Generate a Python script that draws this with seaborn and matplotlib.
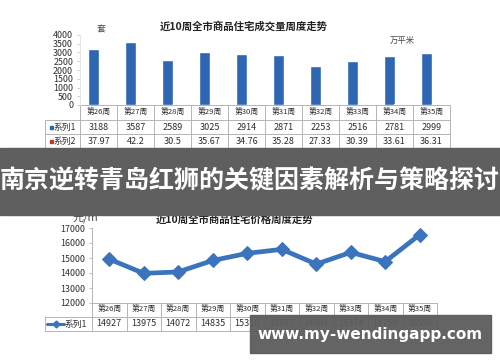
import numpy as np
import pandas as pd
import matplotlib
matplotlib.use('Agg')
import matplotlib.pyplot as plt
import seaborn as sns
from matplotlib.patches import Rectangle
from matplotlib.lines import Line2D

# ---------------- data ----------------
weeks = ['第26周', '第27周', '第28周', '第29周', '第30周',
         '第31周', '第32周', '第33周', '第34周', '第35周']
series_names = ['系列1', '系列2']
volume_units = [3188, 3587, 2589, 3025, 2914, 2871, 2253, 2516, 2781, 2999]
volume_area = [37.97, 42.2, 30.5, 35.67, 34.76, 35.28, 27.33, 30.39, 33.61, 36.31]
price = [14927, 13975, 14072, 14835, 15310, 15577, 14594, 15374, 14759, 16556]
volume_ticks = [0, 500, 1000, 1500, 2000, 2500, 3000, 3500, 4000]
price_ticks = [12000, 13000, 14000, 15000, 16000, 17000]
title_top = '近10周全市商品住宅成交量周度走势'
title_bottom = '近10周全市商品住宅价格周度走势'
unit_top_left = '套'
unit_top_right = '万平米'
unit_bottom = '元/m²'
banner_text = '南京逆转青岛红狮的关键因素解析与策略探讨'
watermark_text = 'www.my-wendingapp.com'

# ---------------- style ----------------
sns.set_theme(style='white')
plt.rcParams['font.family'] = ['Noto Sans CJK SC', 'DejaVu Sans']

W, H = 500, 362
fig = plt.figure(figsize=(5, 3.62), dpi=100)
fig.patch.set_facecolor('white')


def rect(x0, y0, x1, y1):
    return [x0 / W, 1 - y1 / H, (x1 - x0) / W, (y1 - y0) / H]


BLUE = '#2f66b3'
RED = '#c0392b'
LINE_BLUE = '#3b73bd'
GRID = '#b4b4b4'
TXT = '#2e2e2e'

bg = fig.add_axes([0, 0, 1, 1], zorder=0)
bg.set_xlim(0, W)
bg.set_ylim(H, 0)
bg.axis('off')

# ---------------- top chart ----------------
ax1 = fig.add_axes(rect(80, 35, 450, 105), zorder=1)
df1 = pd.DataFrame({
    'week': weeks * 2,
    'value': volume_units + volume_area,
    'series': [series_names[0]] * len(weeks) + [series_names[1]] * len(weeks),
})
sns.barplot(data=df1, x='week', y='value', hue='series',
            palette=[BLUE, RED], width=0.55, saturation=1,
            ax=ax1, legend=False)
ax1.set_xlim(-0.5, len(weeks) - 0.5)
ax1.set_ylim(0, 4000)
ax1.set_yticks(volume_ticks)
ax1.set_xticks([])
ax1.set_xlabel('')
ax1.set_ylabel('')
ax1.tick_params(axis='y', labelsize=6.4, length=2, width=0.6, color='#c8c8c8',
                pad=3, labelcolor=TXT, left=True)
for k, s in ax1.spines.items():
    s.set_visible(k == 'left')
ax1.spines['left'].set_color('#e2e2e2')
ax1.spines['left'].set_linewidth(0.6)
ax1.patch.set_alpha(0)

bg.text(244, 26, title_top, ha='center', va='center', fontsize=7.5,
        fontweight='bold', color='#222222')
bg.text(101, 30, unit_top_left, ha='center', va='center', fontsize=6.5, color='#444444')
bg.text(402, 40, unit_top_right, ha='center', va='center', fontsize=6, color='#444444')

# table under top chart
cx0, cw = 80, 37
n = len(weeks)
colx = [cx0 + cw * i for i in range(n + 1)]
bg.plot([colx[0], colx[-1]], [105, 105], color=GRID, lw=0.7)
for yy in (120, 134, 148):
    bg.plot([45, colx[-1]], [yy, yy], color=GRID, lw=0.7)
bg.plot([45, 45], [120, 148], color=GRID, lw=0.7)
for x in colx:
    bg.plot([x, x], [105, 148], color=GRID, lw=0.7)
for i, wk in enumerate(weeks):
    xc = colx[i] + cw / 2
    bg.text(xc, 113, wk, ha='center', va='center', fontsize=5.6, color=TXT)
    bg.text(xc, 127, f'{volume_units[i]}', ha='center', va='center', fontsize=6.5, color=TXT)
    bg.text(xc, 141, f'{volume_area[i]:g}', ha='center', va='center', fontsize=6.5, color=TXT)
bg.add_patch(Rectangle((49.5, 125.5), 3, 3, color=BLUE))
bg.add_patch(Rectangle((49.5, 139.5), 3, 3, color=RED))
bg.text(53.5, 127, series_names[0], ha='left', va='center', fontsize=6.3, color=TXT)
bg.text(53.5, 141, series_names[1], ha='left', va='center', fontsize=6.3, color=TXT)

# ---------------- bottom chart ----------------
ax2 = fig.add_axes(rect(92, 228, 437, 303), zorder=1)
sns.lineplot(x=np.arange(len(price)), y=price, ax=ax2, color=LINE_BLUE,
             linewidth=3.4, marker='D', markersize=7,
             markeredgecolor=LINE_BLUE, markerfacecolor=LINE_BLUE)
ax2.set_xlim(-0.5, len(price) - 0.5)
ax2.set_ylim(12000, 17000)
ax2.set_yticks(price_ticks)
ax2.set_xticks([])
ax2.tick_params(axis='y', labelsize=6.4, length=2, width=0.6, color=GRID,
                pad=3, labelcolor=TXT, left=True)
for k, s in ax2.spines.items():
    s.set_visible(k == 'left')
ax2.spines['left'].set_color(GRID)
ax2.spines['left'].set_linewidth(0.7)
ax2.patch.set_alpha(0)

bg.text(235, 219, title_bottom, ha='center', va='center', fontsize=7.5,
        fontweight='bold', color='#222222')
bg.text(88, 216.5, unit_bottom, ha='center', va='center', fontsize=8, color='#444444')

# table under bottom chart
bx0, bw = 92, 34.5
bcol = [bx0 + bw * i for i in range(n + 1)]
bg.plot([bcol[0], bcol[-1]], [303, 303], color=GRID, lw=0.7)
for yy in (317, 331):
    bg.plot([45, bcol[-1]], [yy, yy], color=GRID, lw=0.7)
bg.plot([45, 45], [317, 331], color=GRID, lw=0.7)
for x in bcol:
    bg.plot([x, x], [303, 331], color=GRID, lw=0.7)
for i, wk in enumerate(weeks):
    xc = bcol[i] + bw / 2
    bg.text(xc, 310, wk, ha='center', va='center', fontsize=5.6, color=TXT)
    bg.text(xc, 324, f'{price[i]}', ha='center', va='center', fontsize=6.5, color=TXT)
bg.add_line(Line2D([47, 64], [324, 324], color=LINE_BLUE, lw=2.2))
bg.add_line(Line2D([55.5], [324], marker='D', markersize=3.5, color=LINE_BLUE))
bg.text(64.5, 324, series_names[0], ha='left', va='center', fontsize=6.3, color=TXT)

# ---------------- overlays ----------------
ov = fig.add_axes([0, 0, 1, 1], zorder=10)
ov.set_xlim(0, W)
ov.set_ylim(H, 0)
ov.axis('off')
ov.patch.set_alpha(0)
ov.add_patch(Rectangle((0, 148), W, 67, color='#5f5f5f'))
ov.text(250, 181, banner_text, ha='center', va='center', fontsize=18,
        fontweight='bold', color='white')
ov.add_patch(Rectangle((250, 315), 241, 38, color='#5c5c5c', alpha=0.95))
ov.text(370, 335, watermark_text, ha='center', va='center', fontsize=11,
        fontweight='bold', color='white', family='DejaVu Sans')

fig.savefig('out.png', dpi=100, facecolor='white')
